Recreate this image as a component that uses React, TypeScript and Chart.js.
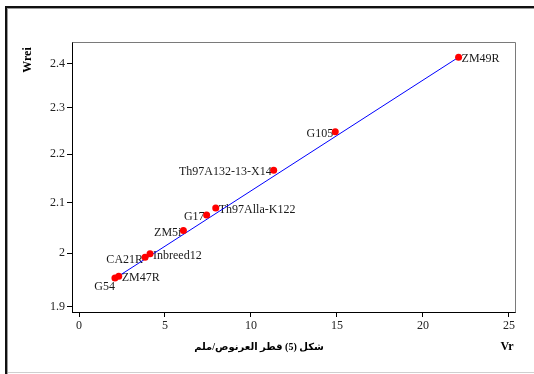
import React, { useEffect, useRef } from "react";
import { Chart, registerables } from "chart.js";

Chart.register(...registerables);

const genotypes = ["G54", "ZM47R", "CA21R", "Inbreed12", "ZM5i", "G17", "Th97Alla-K122", "Th97A132-13-X14", "G105", "ZM49R"];
const vrValues = [2.09, 2.31, 3.84, 4.13, 6.07, 7.42, 7.95, 11.32, 14.9, 22.07];
const wreiValues = [1.953, 1.956, 1.992, 1.999, 2.044, 2.075, 2.089, 2.166, 2.248, 2.415];
const labelSides = ["below", "right", "left", "right", "left", "left", "right", "left", "left", "right"];
const fitVr = [2.09, 22.07];
const fitWrei = [1.952, 2.415];
const xTicks = [0, 5, 10, 15, 20, 25];
const yTicks = [1.9, 2.0, 2.1, 2.2, 2.3, 2.4];
const xTitle = "Vr";
const yTitle = "Wrei";
const caption = "شكل (5) قطر العرنوص/ملم";

const SERIF = '"Liberation Serif", "Times New Roman", serif';

const decorPlugin = {
  id: "decor",
  beforeDraw(chart: any) {
    const ctx = chart.ctx;
    ctx.save();
    ctx.fillStyle = "#ffffff";
    ctx.fillRect(0, 0, chart.width, chart.height);
    // outer frame
    ctx.fillStyle = "#111";
    ctx.fillRect(5, 6, 529, 2);
    ctx.fillRect(5, 6, 2, 368);
    ctx.fillStyle = "#9a9a9a";
    ctx.fillRect(7, 8, 527, 1);
    ctx.fillRect(7, 8, 1, 366);
    ctx.fillStyle = "#cfcfcf";
    ctx.fillRect(8, 372, 526, 1);
    ctx.restore();
  },
  beforeDatasetsDraw(chart: any) {
    const ctx = chart.ctx;
    const meta = chart.getDatasetMeta(0);
    ctx.save();
    ctx.font = `12px ${SERIF}`;
    ctx.fillStyle = "#1a1a1a";
    ctx.textBaseline = "middle";
    meta.data.forEach((pt: any, i: number) => {
      const side = labelSides[i];
      const name = genotypes[i];
      if (side === "right") {
        ctx.textAlign = "left";
        ctx.fillText(name, pt.x + 3, pt.y + 2);
      } else if (side === "left") {
        ctx.textAlign = "right";
        ctx.fillText(name, pt.x - 2, pt.y + 2);
      } else {
        ctx.textAlign = "right";
        ctx.fillText(name, pt.x, pt.y + 9);
      }
    });
    ctx.restore();
  },
  afterDraw(chart: any) {
    const ctx = chart.ctx;
    const a = chart.chartArea;
    ctx.save();
    ctx.strokeStyle = "#7a7a7a";
    ctx.lineWidth = 1;
    ctx.beginPath();
    ctx.moveTo(Math.round(a.left) + 0.5, Math.round(a.top) + 0.5);
    ctx.lineTo(Math.round(a.right) + 0.5, Math.round(a.top) + 0.5);
    ctx.lineTo(Math.round(a.right) + 0.5, Math.round(a.bottom) + 0.5);
    ctx.stroke();

    ctx.fillStyle = "#000";
    ctx.font = `bold 12px ${SERIF}`;
    ctx.textAlign = "center";
    ctx.textBaseline = "middle";
    ctx.fillText(xTitle, 507, 347);
    ctx.save();
    ctx.translate(28, 60);
    ctx.rotate(-Math.PI / 2);
    ctx.fillText(yTitle, 0, 0);
    ctx.restore();

    ctx.font = `bold 10px ${SERIF}, "DejaVu Sans"`;
    (ctx as any).direction = "rtl";
    ctx.textAlign = "center";
    ctx.fillText(caption, 259, 347);
    ctx.restore();
  },
};

export default function App() {
  const ref = useRef<HTMLCanvasElement | null>(null);
  useEffect(() => {
    if (!ref.current) return;
    const chart = new Chart(ref.current, {
      type: "scatter",
      data: {
        datasets: [
          {
            type: "scatter",
            data: vrValues.map((x, i) => ({ x, y: wreiValues[i] })),
            pointRadius: 3.5,
            pointHoverRadius: 3.5,
            backgroundColor: "#ff0000",
            borderWidth: 0,
            order: 0,
          },
          {
            type: "line",
            data: fitVr.map((x, i) => ({ x, y: fitWrei[i] })),
            borderColor: "#0000ff",
            borderWidth: 1,
            pointRadius: 0,
            fill: false,
            order: 1,
          } as any,
        ],
      },
      options: {
        animation: false,
        responsive: false,
        devicePixelRatio: 1,
        layout: { padding: { top: 42, right: 19, left: 0, bottom: 0 } },
        plugins: { legend: { display: false }, tooltip: { enabled: false } },
        scales: {
          x: {
            type: "linear",
            position: "bottom",
            min: -0.407,
            max: 25.35,
            afterBuildTicks: (s: any) => {
              s.ticks = xTicks.map((v) => ({ value: v }));
            },
            afterFit: (s: any) => {
              s.height = 62;
            },
            ticks: {
              font: { family: SERIF, size: 12 },
              color: "#222",
              padding: 2,
              maxRotation: 0,
              autoSkip: false,
              callback: (v: any) => String(v),
            },
            grid: { drawOnChartArea: false, drawTicks: true, tickLength: 5, color: "#000" },
            border: { display: true, color: "#000", width: 1 },
          },
          y: {
            type: "logarithmic",
            min: 1.893,
            max: 2.4506,
            afterBuildTicks: (s: any) => {
              s.ticks = yTicks.map((v) => ({ value: v }));
            },
            afterFit: (s: any) => {
              s.width = 72;
            },
            ticks: {
              font: { family: SERIF, size: 12 },
              color: "#222",
              padding: 2,
              autoSkip: false,
              callback: (v: any) => String(Number(Number(v).toFixed(1))),
            },
            grid: { drawOnChartArea: false, drawTicks: true, tickLength: 5, color: "#000" },
            border: { display: true, color: "#000", width: 1 },
          } as any,
        },
      },
      plugins: [decorPlugin],
    } as any);
    return () => chart.destroy();
  }, []);
  return (
    <div style={{ position: "absolute", left: 0, top: 0, width: 534, height: 374 }}>
      <canvas ref={ref} width={534} height={374} style={{ display: "block" }} />
    </div>
  );
}
